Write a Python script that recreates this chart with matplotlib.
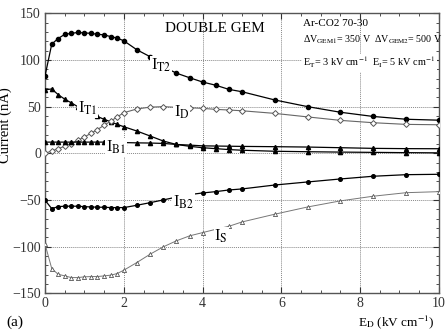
import matplotlib
matplotlib.use("Agg")
from matplotlib import pyplot as plt
from matplotlib.ticker import MultipleLocator

plt.rcParams['font.family'] = 'Liberation Serif'
plt.rcParams['mathtext.fontset'] = 'stix'

# drift field E_D (kV/cm)
e_drift = [0, 0.17, 0.33, 0.5, 0.67, 0.83, 1.0, 1.17, 1.33, 1.5, 1.67, 1.83, 2.0,
           2.33, 2.67, 3.0, 3.33, 3.67, 4.0, 4.33, 4.67, 5.0, 5.83, 6.67, 7.5,
           8.33, 9.17, 10.0]

# currents (nA)
i_t2 = [83, 117, 123, 127.5, 128.6, 129.5, 129, 128.6, 127.5, 127, 125, 123.5, 120.6,
        111, 103.5, 93, 86, 81, 76.4, 73, 68.5, 66, 57.2, 50, 44, 39.5, 36.5, 35.5]
i_t1 = [68, 69, 63, 58, 54, 50, 46, 43, 39.5, 36.4, 33.8, 31, 28.5,
        23.9, 18.5, 13.2, 9.5, 7.5, 6, 5, 4, 3.3, 2.2, 1.7, 1.3, 1.0, 0.7, 0.5]
i_d = [0, 2.5, 5, 7.5, 10.5, 14, 17.5, 21.5, 25.5, 30, 34.5, 39, 43.5,
       47.5, 49.5, 50, 49.3, 48.8, 48.2, 47.1, 46.4, 45.6, 42.8, 39, 35.3, 32.8, 31, 30.6]
i_b1 = [12, 12, 12, 12, 12, 12, 12, 12, 12, 12, 11.8, 11.6, 11.5,
        11.2, 11, 10.6, 9.5, 8.8, 8, 7.8, 7.6, 7.4, 7.1, 6.7, 6, 5.3, 5, 4.9]
i_b2 = [-50.3, -59.3, -57.2, -56.7, -56.7, -56.7, -57.2, -57.5, -57.8, -57.8, -58.2, -58.2, -58.2,
        -55.7, -52.9, -50, -47, -44.3, -42.5, -41.1, -39.3, -38.2, -34, -30.7, -27.5, -24.6, -22.9, -22.5]
i_s = [-97.4, -123.5, -129.6, -131.4, -133.2, -133.2, -132.4, -132.1, -132.1, -131.4, -130.6, -128.9, -125.3,
       -117.1, -108.1, -100.3, -93.9, -88.5, -85, -81.5, -78.2, -73.6, -65.3, -57.5, -51, -46, -42.2, -41.1]

fig = plt.figure(figsize=(4.46, 3.34), dpi=100)
ax = fig.add_axes([0.101, 0.122, 0.883, 0.838])

ax.plot(e_drift, i_t2, '-o', color='black', lw=0.9, ms=3, zorder=3)
ax.plot(e_drift, i_t1, '-^', color='black', lw=0.9, ms=3, zorder=3)
ax.plot(e_drift, i_d, '-D', color='#666666', lw=0.8, ms=3, mfc='white', mec='#555555', mew=0.7, zorder=3)
ax.plot(e_drift, i_b1, '-^', color='black', lw=0.9, ms=3, zorder=3)
ax.plot(e_drift, i_b2, '-o', color='black', lw=0.9, ms=2.6, zorder=3)
ax.plot(e_drift, i_s, '-^', color='#777777', lw=0.7, ms=3, mfc='white', mec='#555555', mew=0.6, zorder=3)

# curve labels sit on top of the lines, breaking them
lab = dict(fontsize=12, ha='left', va='center', zorder=4,
           bbox=dict(facecolor='white', edgecolor='none', pad=0.5))
ax.text(2.68, 94, r'I$_{\mathrm{T2}}$', **lab)
ax.text(0.84, 48, r'I$_{\mathrm{T1}}$', **lab)
ax.text(3.27, 44, r'I$_{\mathrm{D}}$', **lab)
ax.text(1.55, 6, r'I$_{\mathrm{B1}}$', **lab)
ax.text(3.25, -53, r'I$_{\mathrm{B2}}$', **lab)
ax.text(4.3, -89, r'I$_{\mathrm{S}}$', **lab)

ax.text(3.05, 134, 'DOUBLE GEM', fontsize=11, ha='left', va='center')
box = dict(facecolor='white', edgecolor='none', pad=1)
ax.text(6.55, 139, 'Ar-CO2 70-30', fontsize=8, ha='left', va='center')
ax.text(6.55, 122, r'ΔV$_{\mathrm{GEM1}}$= 350 V  ΔV$_{\mathrm{GEM2}}$= 500 V',
        fontsize=7.2, ha='left', va='center')
ax.text(6.55, 97, r'E$_{\mathrm{T}}$= 3 kV cm$^{\mathrm{-1}}$  E$_{\mathrm{I}}$= 5 kV cm$^{\mathrm{-1}}$',
        fontsize=7.4, ha='left', va='center', bbox=box, zorder=4)

ax.set_xlim(0, 10)
ax.set_ylim(-150, 150)
ax.xaxis.set_major_locator(MultipleLocator(2))
ax.xaxis.set_minor_locator(MultipleLocator(0.5))
ax.yaxis.set_major_locator(MultipleLocator(50))
ax.yaxis.set_minor_locator(MultipleLocator(10))
ax.tick_params(which='both', direction='in', top=True, right=True, labelsize=10, colors='#333333')
ax.tick_params(which='major', length=4, width=0.8, pad=3)
ax.tick_params(which='minor', length=2.5, width=0.6)
ax.grid(True, which='major', ls=(0, (1, 1)), color='#888888', lw=0.7)
for s in ax.spines.values():
    s.set_color('#555555')
    s.set_linewidth(1.0)

ax.set_ylabel('Current (nA)', fontsize=10.5)
ax.yaxis.set_label_coords(-0.083, 0.6)
fig.text(0.975, 0.035, r'E$_{\mathrm{D}}$ (kV cm$^{\mathrm{-1}}$)', fontsize=9.5, ha='right', va='center')
fig.text(0.015, 0.035, '(a)', fontsize=11, ha='left', va='center')

fig.savefig('out.png', dpi=100)
